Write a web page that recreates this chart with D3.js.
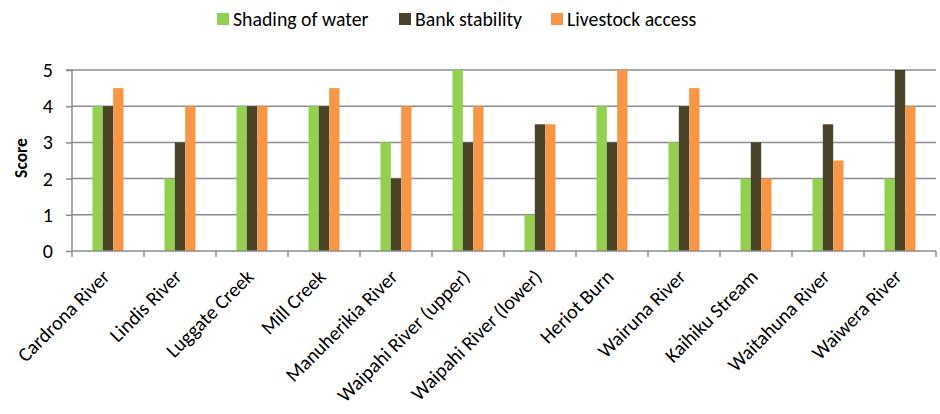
<!DOCTYPE html>
<html>
<head>
<meta charset="utf-8">
<script src="https://cdn.jsdelivr.net/npm/d3@7"></script>
<style>
  body { margin: 0; background: #fff; }
  svg { display: block; font-family: Carlito, Calibri, Lato, "Open Sans", sans-serif; }
</style>
</head>
<body>
<svg id="chart" width="940" height="414"></svg>
<script>
// Stream sites and their habitat scores (0–5)
const categories = [
  "Cardrona River", "Lindis River", "Luggate Creek", "Mill Creek",
  "Manuherikia River", "Waipahi River (upper)", "Waipahi River (lower)",
  "Heriot Burn", "Wairuna River", "Kaihiku Stream", "Waitahuna River", "Waiwera River"
];
const seriesNames = ["Shading of water", "Bank stability", "Livestock access"];
const shading   = [4, 2, 4, 4, 3, 5, 1, 4, 3, 2, 2, 2];
const bank      = [4, 3, 4, 4, 2, 3, 3.5, 3, 4, 3, 3.5, 5];
const livestock = [4.5, 4, 4, 4.5, 4, 4, 3.5, 5, 4.5, 2, 2.5, 4];
const yTicks = [0, 1, 2, 3, 4, 5];
const colors = ["#92D050", "#4A4229", "#F79646"];

const series = [shading, bank, livestock];
const FONT = "Carlito, Calibri, Lato, sans-serif";

const svg = d3.select("#chart");
const x0 = 72, x1 = 936, yTop = 70, yBase = 251;

const x = d3.scaleBand().domain(categories).range([x0, x1]);
const xs = d3.scaleBand().domain(d3.range(3)).range([0, 31]);
const y = d3.scaleLinear().domain([0, 5]).range([yBase, yTop]);

// Horizontal gridlines
svg.append("g")
  .selectAll("line")
  .data(yTicks.filter(d => d > 0))
  .join("line")
  .attr("x1", x0).attr("x2", x1)
  .attr("y1", d => y(d)).attr("y2", d => y(d))
  .attr("stroke", "#8c8c8c").attr("stroke-width", 1.5);

// Grouped bars
const groups = svg.append("g")
  .selectAll("g")
  .data(categories)
  .join("g")
  .attr("transform", d => `translate(${x(d) + (x.bandwidth() - 31) / 2},0)`);

groups.selectAll("rect")
  .data((d, i) => series.map((s, k) => ({ k, v: s[i] })))
  .join("rect")
  .attr("x", d => xs(d.k))
  .attr("width", xs.bandwidth())
  .attr("y", d => y(d.v))
  .attr("height", d => yBase - y(d.v))
  .attr("fill", d => colors[d.k]);

// Y axis
const yAxis = d3.axisLeft(y).tickValues(yTicks).tickFormat(d3.format("d")).tickSize(6).tickPadding(13);
const gy = svg.append("g").attr("transform", `translate(${x0},0)`).call(yAxis);
gy.select(".domain").attr("stroke", "#8c8c8c").attr("stroke-width", 1.5).attr("d", `M-6,${yTop}H0V${yBase}`);
gy.selectAll(".tick line").attr("stroke", "#8c8c8c").attr("stroke-width", 1.5);
gy.selectAll(".tick text").attr("font-size", 20).attr("fill", "#000").attr("font-family", FONT);

// X axis
const xAxis = d3.axisBottom(x).tickSize(0).tickFormat("");
const gx = svg.append("g").attr("transform", `translate(0,${yBase})`).call(xAxis);
gx.select(".domain").attr("stroke", "#8c8c8c").attr("stroke-width", 1.5).attr("d", `M${x0},0H${x1}`);
gx.selectAll(".bt")
  .data(d3.range(categories.length + 1))
  .join("line")
  .attr("class", "bt")
  .attr("x1", i => x0 + i * x.bandwidth()).attr("x2", i => x0 + i * x.bandwidth())
  .attr("y1", 0).attr("y2", 6)
  .attr("stroke", "#8c8c8c").attr("stroke-width", 1.5);

// Rotated category labels
svg.append("g")
  .selectAll("text")
  .data(categories)
  .join("text")
  .attr("transform", d => `translate(${x(d) + x.bandwidth() / 2 - 2},${yBase + 22}) rotate(-45)`)
  .attr("text-anchor", "end")
  .attr("dy", "0.35em")
  .attr("font-size", 20)
  .attr("fill", "#000")
  .text(d => d);

// Y axis title
svg.append("text")
  .attr("transform", `translate(27,158) rotate(-90)`)
  .attr("text-anchor", "middle")
  .attr("font-size", 17.5)
  .attr("font-weight", "bold")
  .text("Score");

// Legend
const legendX = [217, 399, 551];
const legend = svg.append("g")
  .selectAll("g")
  .data(seriesNames)
  .join("g")
  .attr("transform", (d, i) => `translate(${legendX[i]},13)`);
legend.append("rect").attr("width", 12).attr("height", 12).attr("fill", (d, i) => colors[i]);
legend.append("text").attr("x", 16).attr("y", 6).attr("dy", "0.36em")
  .attr("font-size", 19.8).attr("fill", "#000").text(d => d);
</script>
</body>
</html>
